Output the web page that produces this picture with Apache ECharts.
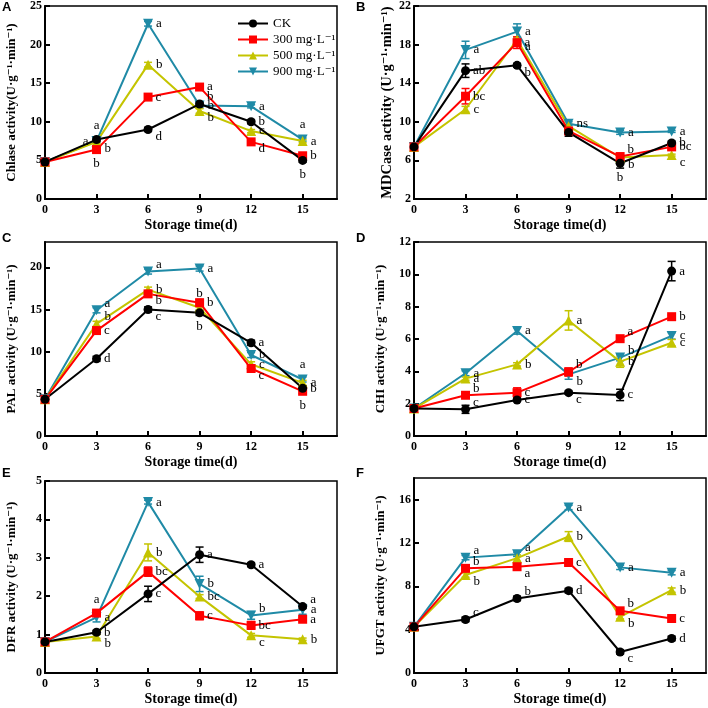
<!DOCTYPE html>
<html>
<head>
<meta charset="utf-8">
<script src="https://cdn.jsdelivr.net/npm/echarts@6/dist/echarts.min.js"></script>
<style>
  html, body { margin: 0; padding: 0; background: #fff; }
  #chart { width: 708px; height: 708px; }
</style>
</head>
<body>
<div id="chart"></div>
<script>
const days = [0, 3, 6, 9, 12, 15];
const treatments = ['CK', '300 mg·L⁻¹', '500 mg·L⁻¹', '900 mg·L⁻¹'];
const panelTags = ['A', 'B', 'C', 'D', 'E', 'F'];
const yTitles = [
  'Chlase activity(U·g⁻¹·min⁻¹)',
  'MDCase activity (U·g⁻¹·min⁻¹)',
  'PAL activity (U·g⁻¹·min⁻¹)',
  'CHI activity (U·g⁻¹·min⁻¹)',
  'DFR activity (U·g⁻¹·min⁻¹)',
  'UFGT activity (U·g⁻¹·min⁻¹)'
];
const yMin = [0, 2, 0, 0, 0, 0];
const yMax = [25, 22, 23, 12, 5, 18];
const yStep = [5, 4, 5, 2, 1, 4];

// means, rows = CK, 300, 500, 900
const chlaseMean = [
  [4.8, 7.7, 9.0, 12.3, 10.0, 5.0],
  [4.8, 6.4, 13.2, 14.5, 7.4, 5.6],
  [4.8, 7.4, 17.4, 11.4, 8.8, 7.5],
  [4.8, 7.5, 22.7, 12.1, 12.0, 7.7]
];
const mdcaseMean = [
  [7.4, 15.3, 15.85, 8.9, 5.7, 7.8],
  [7.4, 12.65, 18.2, 9.05, 6.4, 7.4],
  [7.4, 11.3, 18.5, 9.55, 6.3, 6.55],
  [7.4, 17.45, 19.35, 9.8, 8.9, 9.0]
];
const palMean = [
  [4.35, 9.15, 15.0, 14.6, 11.05, 5.65],
  [4.35, 12.5, 16.85, 15.8, 8.0, 5.3],
  [4.35, 13.3, 17.35, 15.2, 8.5, 6.3],
  [4.35, 14.9, 19.5, 19.85, 9.6, 6.7]
];
const chiMean = [
  [1.7, 1.65, 2.23, 2.68, 2.54, 10.2],
  [1.7, 2.52, 2.68, 3.96, 6.02, 7.38],
  [1.7, 3.55, 4.43, 7.15, 4.6, 5.77],
  [1.7, 3.88, 6.5, 3.81, 4.85, 6.19]
];
const dfrMean = [
  [0.81, 1.06, 2.06, 3.08, 2.82, 1.73],
  [0.81, 1.56, 2.64, 1.49, 1.24, 1.40],
  [0.81, 0.95, 3.14, 1.99, 0.98, 0.88],
  [0.81, 1.45, 4.45, 2.32, 1.5, 1.65]
];
const ufgtMean = [
  [4.26, 4.94, 6.88, 7.6, 1.94, 3.18],
  [4.26, 9.66, 9.81, 10.2, 5.74, 5.03],
  [4.26, 9.04, 10.6, 12.6, 5.19, 7.65],
  [4.26, 10.65, 10.96, 15.28, 9.75, 9.26]
];

// standard errors
const chlaseErr = [
  [0.2, 0.25, 0.25, 0.3, 0.25, 0.25],
  [0.2, 0.3, 0.3, 0.3, 0.25, 0.2],
  [0.2, 0.2, 0.3, 0.3, 0.2, 0.2],
  [0.2, 0.2, 0.3, 0.3, 0.2, 0.2]
];
const mdcaseErr = [
  [0.1, 0.7, 0.2, 0.4, 0.5, 0.2],
  [0.1, 0.8, 0.6, 0.3, 0.2, 0.2],
  [0.1, 0.3, 0.3, 0.2, 0.2, 0.1],
  [0.1, 0.9, 0.8, 0.2, 0.2, 0.1]
];
const palErr = [
  [0.2, 0.3, 0.3, 0.3, 0.3, 0.3],
  [0.2, 0.3, 0.3, 0.4, 0.3, 0.3],
  [0.2, 0.3, 0.3, 0.3, 0.3, 0.3],
  [0.2, 0.3, 0.3, 0.3, 0.3, 0.3]
];
const chiErr = [
  [0.1, 0.25, 0.1, 0.1, 0.35, 0.6],
  [0.1, 0.1, 0.3, 0.25, 0.1, 0.1],
  [0.1, 0.1, 0.1, 0.6, 0.35, 0.2],
  [0.1, 0.15, 0.2, 0.3, 0.2, 0.2]
];
const dfrErr = [
  [0.03, 0.05, 0.2, 0.2, 0.05, 0.05],
  [0.03, 0.05, 0.12, 0.1, 0.1, 0.05],
  [0.03, 0.05, 0.22, 0.05, 0.05, 0.03],
  [0.03, 0.12, 0.05, 0.2, 0.1, 0.12]
];
const ufgtErr = [
  [0.2, 0.2, 0.2, 0.2, 0.2, 0.2],
  [0.2, 0.2, 0.3, 0.2, 0.2, 0.2],
  [0.2, 0.2, 0.3, 0.45, 0.2, 0.2],
  [0.2, 0.2, 0.2, 0.2, 0.2, 0.2]
];

// significance letters
const chlaseSig = [
  ['', 'a', 'd', 'b', 'b', 'b'],
  ['', 'b', 'c', 'a', 'd', 'b'],
  ['', 'b', 'b', 'b', 'c', 'a'],
  ['', 'a', 'a', 'b', 'a', 'a']
];
const mdcaseSig = [
  ['', 'ab', 'b', '', 'b', 'b'],
  ['', 'bc', 'a', '', 'b', 'bc'],
  ['', 'c', 'a', '', 'b', 'c'],
  ['', 'a', 'a', 'ns', 'a', 'a']
];
const palSig = [
  ['', 'd', 'c', 'b', 'a', 'b'],
  ['', 'c', 'b', 'b', 'c', 'b'],
  ['', 'b', 'b', 'b', 'c', 'a'],
  ['', 'a', 'a', 'a', 'b', 'a']
];
const chiSig = [
  ['', 'c', 'c', 'c', 'c', 'a'],
  ['', 'b', 'c', 'b', 'a', 'b'],
  ['', 'a', 'b', 'a', 'b', 'c'],
  ['', 'a', 'a', 'b', 'b', 'c']
];
const dfrSig = [
  ['', 'b', 'c', 'a', 'a', 'a'],
  ['', 'a', 'bc', 'c', 'bc', 'a'],
  ['', 'b', 'b', 'bc', 'c', 'b'],
  ['', 'a', 'a', 'b', 'b', 'a']
];
const ufgtSig = [
  ['', 'c', 'b', 'd', 'c', 'd'],
  ['', 'b', 'a', 'c', 'b', 'c'],
  ['', 'b', 'a', 'b', 'b', 'b'],
  ['', 'a', 'a', 'a', 'a', 'a']
];

// where each letter sits relative to its point
const chlaseSigPos = [
  ['', 't', 'br', 'tr', 'r', 'b'],
  ['', 'b', 'r', 'r', 'br', 'r'],
  ['', 'br', 'r', 'br', 'r', 'r'],
  ['', 'l', 'r', 'r', 'r', 't']
];
const mdcaseSigPos = [
  ['', 'r', 'br', '', 'b', 'r'],
  ['', 'r', 'r', '', 'tr', 'r'],
  ['', 'r', 'br', '', 'br', 'br'],
  ['', 'r', 'r', 'r', 'r', 'r']
];
const palSigPos = [
  ['', 'r', 'br', 'b', 'r', 'r'],
  ['', 'r', 'br', 'r', 'br', 'b'],
  ['', 'tr', 'r', 't', 'r', 'r'],
  ['', 'tr', 'tr', 'r', 'r', 't']
];
const chiSigPos = [
  ['', 'tr', 'r', 'br', 'r', 'r'],
  ['', 'tr', 'r', 'tr', 'tr', 'r'],
  ['', 'r', 'r', 'r', 'r', 'r'],
  ['', 'r', 'r', 'br', 'tr', 'r']
];
const dfrSigPos = [
  ['', 'r', 'r', 'r', 'r', 'tr'],
  ['', 't', 'r', 'r', 'r', 'r'],
  ['', 'br', 'r', 'r', 'br', 'r'],
  ['', 'r', 'r', 'r', 'tr', 'r']
];
const ufgtSigPos = [
  ['', 'tr', 'tr', 'r', 'br', 'r'],
  ['', 'tr', 'br', 'r', 'tr', 'r'],
  ['', 'br', 'r', 'r', 'br', 'r'],
  ['', 'tr', 'tr', 'r', 'r', 'r']
];

const means = [chlaseMean, mdcaseMean, palMean, chiMean, dfrMean, ufgtMean];
const errs = [chlaseErr, mdcaseErr, palErr, chiErr, dfrErr, ufgtErr];
const sigs = [chlaseSig, mdcaseSig, palSig, chiSig, dfrSig, ufgtSig];
const sigPos = [chlaseSigPos, mdcaseSigPos, palSigPos, chiSigPos, dfrSigPos, ufgtSigPos];

const colors = ['#000000', '#ff0000', '#c4c400', '#1f8aa6'];
const symbols = ['circle', 'rect', 'triangle', 'triangle'];
const symbolSizes = [9, 9, 10, 10];
const symbolRot = [0, 0, 0, 180];

const serif = '"Liberation Serif", "DejaVu Serif", serif';

// pixel boxes for the six plots
const boxes = [
  { left: 45, top: 6, width: 292, height: 193 },
  { left: 414, top: 6, width: 292, height: 193 },
  { left: 45, top: 242, width: 292, height: 194 },
  { left: 414, top: 242, width: 292, height: 194 },
  { left: 45, top: 481, width: 292, height: 192 },
  { left: 414, top: 478, width: 292, height: 195 }
];
const tagPos = [[2, 1], [356, 1], [2, 232], [356, 232], [2, 467], [356, 467]];
const yNameSize = [13, 14.5, 13, 13, 13, 13];
const yNameGap = [27, 18, 27, 27, 27, 27];

function letterLabel(txt, pos) {
  if (!txt) return { show: false };
  const place = { t: 'top', b: 'bottom', l: 'left' }[pos] || 'right';
  const off = { tr: [0, -7], br: [0, 7] }[pos] || [0, 0];
  return {
    show: true,
    formatter: txt,
    position: place,
    offset: off,
    distance: 3,
    color: '#000',
    fontFamily: serif,
    fontSize: 13
  };
}

const grids = [];
const xAxes = [];
const yAxes = [];
const series = [];

boxes.forEach((b, p) => {
  grids.push(Object.assign({
    show: true,
    borderColor: '#000',
    borderWidth: 1.5,
    outerBoundsMode: 'none',
    containLabel: false
  }, b));

  xAxes.push({
    gridIndex: p,
    type: 'value',
    min: 0,
    max: 17,
    interval: 3,
    name: 'Storage time(d)',
    nameLocation: 'middle',
    nameGap: 19,
    nameTextStyle: { fontFamily: serif, fontWeight: 'bold', fontSize: 14, color: '#000' },
    axisLine: { lineStyle: { color: '#000', width: 2 } },
    axisTick: { inside: true, length: 5, lineStyle: { color: '#000', width: 2 } },
    axisLabel: { showMaxLabel: false, margin: 5, fontFamily: serif, fontWeight: 'bold', fontSize: 12, color: '#000' },
    splitLine: { show: false }
  });

  yAxes.push({
    gridIndex: p,
    type: 'value',
    min: yMin[p],
    max: yMax[p],
    interval: yStep[p],
    name: yTitles[p],
    nameLocation: 'middle',
    nameGap: yNameGap[p],
    nameTextStyle: { fontFamily: serif, fontWeight: 'bold', fontSize: yNameSize[p], color: '#000' },
    axisLine: { lineStyle: { color: '#000', width: 2 } },
    axisTick: { inside: true, length: 5, lineStyle: { color: '#000', width: 2 } },
    axisLabel: {
      showMaxLabel: (yMax[p] - yMin[p]) % yStep[p] === 0,
      margin: 3,
      fontFamily: serif,
      fontWeight: 'bold',
      fontSize: 12,
      color: '#000'
    },
    splitLine: { show: false }
  });

  // error bars
  for (let s = 3; s >= 0; s--) {
    const m = means[p][s];
    const e = errs[p][s];
    series.push({
      type: 'custom',
      xAxisIndex: p,
      yAxisIndex: p,
      silent: true,
      z: 2,
      data: days.map((d, i) => [d, m[i] - e[i], m[i] + e[i]]),
      renderItem: function (params, api) {
        const lo = api.coord([api.value(0), api.value(1)]);
        const hi = api.coord([api.value(0), api.value(2)]);
        const w = 4;
        const style = { stroke: colors[s], lineWidth: 1.5 };
        return {
          type: 'group',
          children: [
            { type: 'line', shape: { x1: hi[0], y1: hi[1], x2: lo[0], y2: lo[1] }, style: style },
            { type: 'line', shape: { x1: hi[0] - w, y1: hi[1], x2: hi[0] + w, y2: hi[1] }, style: style },
            { type: 'line', shape: { x1: lo[0] - w, y1: lo[1], x2: lo[0] + w, y2: lo[1] }, style: style }
          ]
        };
      }
    });
  }

  // lines with markers and letters
  for (let s = 3; s >= 0; s--) {
    series.push({
      name: treatments[s],
      type: 'line',
      xAxisIndex: p,
      yAxisIndex: p,
      z: 3,
      symbol: symbols[s],
      symbolSize: symbolSizes[s],
      symbolRotate: symbolRot[s],
      showAllSymbol: true,
      lineStyle: { color: colors[s], width: 2 },
      itemStyle: { color: colors[s] },
      data: days.map((d, i) => ({
        value: [d, means[p][s][i]],
        label: letterLabel(sigs[p][s][i], sigPos[p][s][i])
      }))
    });
  }
});

const chart = echarts.init(document.getElementById('chart'));
chart.setOption({
  animation: false,
  backgroundColor: '#fff',
  grid: grids,
  xAxis: xAxes,
  yAxis: yAxes,
  legend: {
    data: treatments,
    orient: 'vertical',
    left: 232,
    top: 12,
    itemWidth: 30,
    itemHeight: 10,
    itemGap: 3,
    textStyle: { fontFamily: serif, fontSize: 13, color: '#000', lineHeight: 13 }
  },
  graphic: panelTags.map((t, i) => ({
    type: 'text',
    left: tagPos[i][0],
    top: tagPos[i][1],
    style: {
      text: t,
      font: 'bold 13px "Liberation Sans", Arial, sans-serif',
      fill: '#000'
    }
  })),
  series: series
});
</script>
</body>
</html>
